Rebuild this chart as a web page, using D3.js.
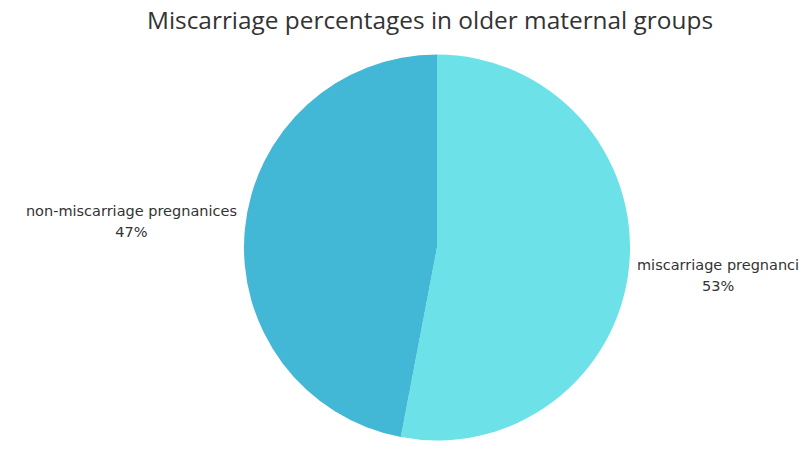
<!DOCTYPE html>
<html>
<head>
<meta charset="utf-8">
<script src="https://cdn.jsdelivr.net/npm/d3@7"></script>
<style>
  html, body { margin: 0; padding: 0; background: #fff; }
  svg { display: block; }
</style>
</head>
<body>
<svg id="chart" width="799" height="476"></svg>
<script>
// Pie chart data
const categories = ["miscarriage pregnancies", "non-miscarriage pregnanices"];
const values = [53, 47];
const colors = ["#6ce2e8", "#43b7d6"];
const title = "Miscarriage percentages in older maternal groups";

const width = 799, height = 476;
const cx = 437, cy = 247.5, radius = 193;
const labelFont = "'DejaVu Sans', sans-serif";
const labelSize = 14.5;

const svg = d3.select("#chart");

svg.append("text")
  .attr("x", 430)
  .attr("y", 29)
  .attr("text-anchor", "middle")
  .attr("font-family", "'Open Sans', sans-serif")
  .attr("font-size", 24.4)
  .attr("fill", "#333")
  .text(title);

const data = categories.map((c, i) => ({ label: c, value: values[i], color: colors[i] }));

const pie = d3.pie().sort(null).value(d => d.value);
const arcs = pie(data);
const arc = d3.arc().innerRadius(0).outerRadius(radius);

const g = svg.append("g").attr("transform", `translate(${cx},${cy})`);

g.selectAll("path.slice")
  .data(arcs)
  .join("path")
  .attr("class", "slice")
  .attr("d", arc)
  .attr("fill", d => d.data.color);

// Labels sit just outside the rim; long names are trimmed to the space left
const labelR = 200;
const fmtPct = v => d3.format(".0f")(v / d3.sum(values) * 100) + "%";

arcs.forEach(d => {
  const a = (d.startAngle + d.endAngle) / 2;
  const right = Math.sin(a) > 0;
  const lower = -Math.cos(a) > 0;
  const ay = cy - labelR * Math.cos(a);
  const edge = right ? cx + labelR : cx - labelR;
  const avail = right ? width - edge + 3 : edge - 10;

  const t = svg.append("text")
    .attr("font-family", labelFont)
    .attr("font-size", labelSize)
    .attr("fill", "#333")
    .attr("text-anchor", "middle");

  const line1 = t.append("tspan").attr("y", ay + (lower ? 4 : -12.5)).text(d.data.label);
  let txt = d.data.label;
  while (line1.node().getComputedTextLength() > avail && txt.length > 1) {
    txt = txt.slice(0, -1);
    line1.text(txt);
  }
  const w = line1.node().getComputedTextLength();
  const mid = right ? edge + w / 2 : edge - w / 2;
  line1.attr("x", mid);

  t.append("tspan")
    .attr("x", mid)
    .attr("dy", 20.5)
    .text(fmtPct(d.data.value));
});
</script>
</body>
</html>
